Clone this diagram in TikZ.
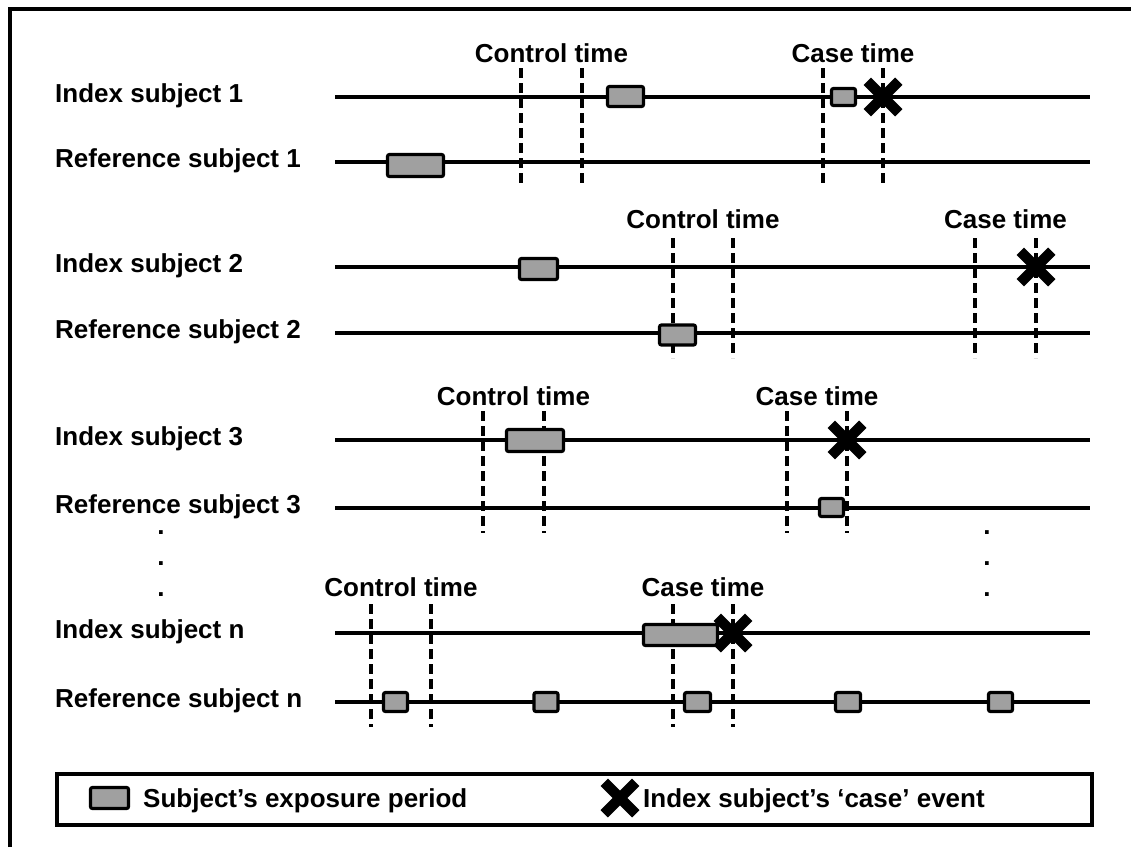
\documentclass[tikz,border=0pt]{standalone}
\usepackage{fontspec}
\setmainfont{Liberation Sans}
\usetikzlibrary{shapes.misc}
\definecolor{expgray}{RGB}{160,160,160}

\begin{document}
\begin{tikzpicture}[x=1pt,y=-1pt,
  font=\fontsize{26}{30}\selectfont\bfseries,
  tline/.style={line width=4pt},
  tdash/.style={line width=3.4pt, dash pattern=on 10pt off 5pt},
  expo/.style={draw, fill=expgray, line width=3.2pt, rounded corners=2pt, inner sep=0pt},
  event/.style={cross out, draw, line width=10.5pt, minimum size=21pt, inner sep=0pt},
  lbl/.style={anchor=base west, inner sep=0pt},
  tlbl/.style={anchor=base, inner sep=0pt}]
\useasboundingbox (0,0) rectangle (1131,847);
\draw[line width=3.2pt] (10,847) -- (10,9) -- (1131,9);
\foreach \k/\yi/\yr/\ca/\cb/\sa/\sb/\yt in {1/97/162/521/582/823/883/62, 2/267/333/673/733/975/1036/228, 3/440/508/483/544/787/847/405, n/633/702/371/431/673/733/596} {
 \node[lbl] (idx\k) at (55,\yi+5) {Index subject \k};
 \node[lbl] (ref\k) at (55,\yr+5) {Reference subject \k};
 \coordinate (is\k) at (335,\yi);
 \coordinate (ie\k) at (1090,\yi);
 \coordinate (rs\k) at (335,\yr);
 \coordinate (re\k) at (1090,\yr);
 \draw[tline] (is\k) -- (ie\k);
 \draw[tline] (rs\k) -- (re\k);
 \foreach \x in {\ca,\cb,\sa,\sb}
  \draw[tdash] (\x,\yi-29) -- (\x,\yr+25);
 \node[tlbl] (ctrl\k) at ({(\ca+\cb)/2},\yt) {Control time};
 \node[tlbl] (case\k) at ({(\sa+\sb)/2},\yt) {Case time};
}
\foreach \n/\x/\y/\w/\h in {a/625.5/96.5/39/23, b/843.5/97/27/20, c/415.5/165.5/59/25,
  d/538.5/269/41/24, e/677.5/335/39/23, f/535/440.5/60/25, g/831.5/507.5/27/21,
  h/680.5/635/77/24, i/395.5/702/27/22, j/546/702/27/22, k/697.5/702/29/22,
  l/848/702/28/22, m/1000.5/702/27/22}
 \node[expo, minimum width=\w pt-3pt, minimum height=\h pt-3pt] (exp\n) at (\x,\y) {};
\foreach \k/\x/\y in {1/883/97, 2/1036/267, 3/847/440, n/733/633}
 \node[event] (ev\k) at (\x,\y) {};
\foreach \y [count=\i] in {532,563,594} {
 \node[tlbl] (dotl\i) at (161,\y+2) {.};
 \node[tlbl] (dotr\i) at (987,\y+2) {.};
}
\draw[line width=3.2pt] (57,774) rectangle (1092,825);
\node[expo, minimum width=38pt, minimum height=21pt] (keyexp) at (109.5,798) {};
\node[lbl] (keyexptxt) at (143,807) {Subject’s exposure period};
\node[event] (keyev) at (620,798) {};
\node[lbl] (keyevtxt) at (643,807) {Index subject’s ‘case’ event};
\end{tikzpicture}
\end{document}
